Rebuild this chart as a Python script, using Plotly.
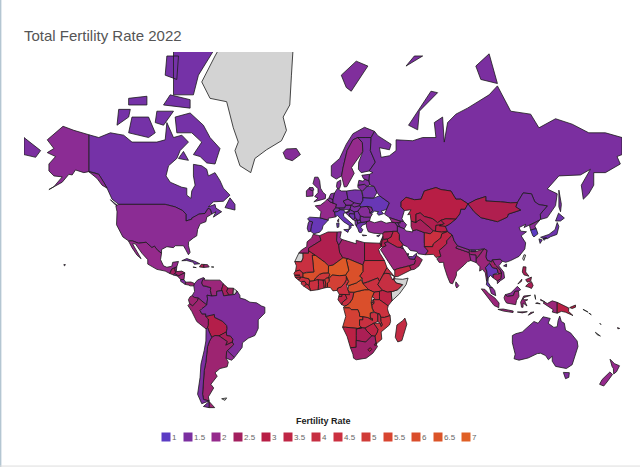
import numpy as np
import plotly.graph_objects as go
from plotly.colors import sample_colorscale

# no world topojson can be fetched here, so country shapes are rough lon/lat outlines

countries = ["Canada", "USA", "Mexico", "Guatemala", "Belize", "Honduras", "El Salvador", "Nicaragua", "Costa Rica", "Panama",
    "Cuba", "Haiti", "Dominican Rep.", "Jamaica", "Puerto Rico", "Colombia", "Venezuela", "Guyana", "Suriname",
    "Ecuador", "Peru", "Bolivia", "Brazil", "Paraguay", "Uruguay", "Argentina", "Chile", "Iceland", "Ireland",
    "UK", "Portugal", "Spain", "France", "Belgium", "Netherlands", "Germany", "Denmark", "Switzerland", "Austria",
    "Italy", "Poland", "Czechia", "Slovakia", "Hungary", "Slovenia", "Croatia", "Bosnia", "Serbia", "Montenegro",
    "Albania", "N. Macedonia", "Greece", "Bulgaria", "Romania", "Moldova", "Ukraine", "Belarus", "Lithuania", "Latvia",
    "Estonia", "Norway", "Sweden", "Finland", "Russia", "Turkey", "Georgia", "Armenia", "Azerbaijan", "Cyprus",
    "Syria", "Lebanon", "Israel", "Jordan", "Iraq", "Saudi Arabia", "Kuwait", "Qatar", "UAE", "Oman",
    "Yemen", "Iran", "Turkmenistan", "Kazakhstan", "Uzbekistan", "Kyrgyzstan", "Tajikistan", "Afghanistan", "Pakistan", "India",
    "Nepal", "Bhutan", "Bangladesh", "Sri Lanka", "China", "Mongolia", "North Korea", "South Korea", "Japan",
    "Myanmar", "Thailand", "Laos", "Vietnam", "Cambodia", "Malaysia", "Indonesia", "Papua New Guinea", "Philippines", "Australia",
    "New Zealand", "Solomon Islands", "Vanuatu", "Fiji", "Morocco", "Algeria", "Tunisia", "Libya", "Egypt", "Sudan", "South Sudan", "Eritrea", "Djibouti",
    "Ethiopia", "Kenya", "Uganda", "Rwanda", "Burundi", "Tanzania", "DR Congo", "Congo", "Gabon", "Eq. Guinea",
    "Cameroon", "CAR", "Chad", "Niger", "Nigeria", "Benin", "Togo", "Ghana", "Burkina Faso", "Ivory Coast",
    "Liberia", "Sierra Leone", "Guinea", "Guinea-Bissau", "Senegal", "Gambia", "Mali", "Mauritania", "Angola", "Zambia",
    "Malawi", "Mozambique", "Zimbabwe", "Botswana", "Namibia", "South Africa", "Lesotho", "Eswatini", "Madagascar"]

rates = [1.4, 1.8, 2.0, 2.5, 2.0, 2.4, 1.8, 2.2, 1.5, 2.3,
    1.4, 2.8, 2.3, 1.3, 1.2, 1.7, 2.2, 2.6, 2.5,
    2.3, 2.3, 2.9, 1.6, 2.6, 1.9, 2.3, 1.5, 1.7, 1.8,
    1.7, 1.4, 1.2, 2.0, 1.6, 1.6, 1.5, 1.7, 1.5, 1.5,
    1.2, 1.4, 1.6, 1.6, 1.5, 1.6, 1.4, 1.3, 1.4, 1.7,
    1.4, 1.4, 1.3, 1.6, 1.7, 1.8, 1.2, 1.4, 1.6, 1.6,
    1.6, 1.6, 2.0, 1.5, 1.5, 1.9, 2.1, 1.6, 1.7, 1.3,
    2.7, 2.1, 2.9, 2.8, 3.4, 2.2, 2.1, 1.8, 1.4, 2.5,
    3.7, 1.7, 2.6, 3.0, 2.8, 2.9, 3.1, 4.5, 3.4, 2.3,
    2.0, 1.4, 2.0, 2.0, 1.5, 2.8, 1.8, 1.0, 1.3,
    2.2, 1.2, 2.4, 1.9, 2.5, 1.8, 2.2, 3.1, 2.7, 1.6,
    2.0, 3.9, 3.7, 2.4, 2.3, 2.8, 2.0, 2.4, 2.9, 4.4, 4.4, 3.8, 2.7,
    4.0, 3.3, 4.5, 3.8, 5.0, 4.6, 6.1, 4.2, 3.5, 4.2,
    4.4, 6.0, 6.2, 6.7, 5.2, 5.0, 4.2, 3.6, 4.8, 4.4,
    4.0, 4.0, 4.3, 3.8, 4.4, 4.6, 6.0, 4.3, 5.2, 4.3,
    3.8, 4.6, 3.4, 2.7, 3.2, 2.4, 3.0, 2.8, 3.8]

no_data = ["Greenland", "Somalia", "Western Sahara", "French Guiana", "Falkland Islands", "Taiwan", "New Caledonia"]

legend_title = "Fertility Rate"
legend_values = [1, 1.5, 2, 2.5, 3, 3.5, 4, 4.5, 5, 5.5, 6, 6.5, 7]
legend_colours = ["#5b3cc4", "#7b2fa0", "#952a8c", "#a3205f", "#b81e45", "#bf2645", "#c62f42",
    "#cb3040", "#d03c38", "#d84530", "#da4e2c", "#db5428", "#e06026"]

outlines_americas = {
    "Canada": [[(-141,69.6),(-135,69),(-128,70),(-120,69.5),(-115,68),(-108,68),(-100,68),(-95,68.5),(-94,72),(-90,69),(-85,69.5),(-81,68),(-86,66),(-88,64),(-93,62),(-94.5,59),(-92,57),(-85,55.3),(-82,55),(-82,52.5),(-79.5,51.3),(-79,54),(-77,56),(-78,59),(-78,62.4),(-73,62),(-70,61),(-69,59),(-65,60),(-62,57.5),(-60,55),(-56,52.5),(-60,50.2),(-66,50),(-69,48),(-65,49),(-64.5,47.5),(-61,46),(-66,43.7),(-64.5,46),(-67,45),(-67.8,47),(-69.2,47.4),(-71,45.3),(-74.7,45),(-76.5,44.1),(-79,43.3),(-79,42.8),(-82.5,42),(-82.5,45),(-84.5,46.5),(-89,48),(-95,49),(-123,49),(-127,51),(-130,55),(-132,57),(-135,59.5),(-138,60),(-141,60.3)],
        [(-80,73.7),(-72,71.5),(-68,69),(-62,66.5),(-65,62.5),(-70,62.8),(-74,64.5),(-78,65),(-73,68),(-79,70),(-88,70),(-89,73)],
        [(-117,70),(-105,69),(-101,70),(-105,73),(-115,73)],
        [(-90,76.5),(-78,76.5),(-75,79),(-65,81.7),(-62,82.8),(-75,83.1),(-90,82)],
        [(-96,75),(-80,74.5),(-80,75.8),(-92,76.5)],
        [(-124,71.5),(-117,73),(-116,74.3),(-123,74.3)],
        [(-117,75),(-106,75),(-106,76.3),(-117,76)],
        [(-95,79),(-88,78.5),(-87,81),(-94,81)],
        [(-87,64),(-81,63.5),(-84,65.8)],
        [(-59,47.7),(-53,46.7),(-53,49),(-56,51.5)],
        [(-128,50.8),(-123.5,48.4),(-125,48.8)],
        [(-101,72),(-96,71.5),(-90,74),(-100,74)]],
    "USA": [[(-124.7,48.4),(-123,49),(-95,49),(-89,48),(-84.5,46.5),(-82.5,45),(-82.5,42),(-79,42.8),(-79,43.3),(-76.5,44.1),(-74.7,45),(-71,45.3),(-69.2,47.4),(-67.8,47),(-67,45),(-70,43.7),(-70.5,41.7),(-74,40.7),(-75.5,38),(-76,35),(-78,34),(-81,32),(-81,30),(-80,26.5),(-81,25.2),(-82.7,28),(-84,30),(-89,30),(-90,29),(-94,29.5),(-97.2,28),(-97.2,26),(-99.5,27.5),(-101.5,29.8),(-103,29),(-106.5,31.8),(-111,31.3),(-114.8,32.5),(-117.1,32.5),(-120.5,34.5),(-122.5,37.5),(-124.3,40.3),(-124,46)],
        [(-141,69.6),(-150,70.5),(-156.5,71.3),(-166,68.5),(-162,66.5),(-166,65.5),(-161,64.5),(-165,62.5),(-165,60.5),(-162,59),(-157,58.7),(-162,55.5),(-165,54.5),(-157,57),(-153,59.5),(-151,59.3),(-149,60.8),(-144,60),(-141,60.3),(-138,60),(-135,59.5),(-132,57),(-130,55),(-133,56),(-136,58.2),(-141,60.3)],
        [(-156,19.8),(-155,19.6),(-155.7,19)]],
    "Mexico": [[(-117.1,32.5),(-114.8,32.5),(-111,31.3),(-106.5,31.8),(-103,29),(-101.5,29.8),(-99.5,27.5),(-97.2,26),(-97.8,22.5),(-96,19),(-94,18.2),(-91,18.8),(-90.5,21),(-87,21.5),(-88,18.5),(-89.1,17.9),(-91,17.2),(-92.2,14.6),(-95,16),(-100,17),(-105.5,20),(-105.5,22.5),(-109,26),(-113,31),(-114.7,31),(-112,27),(-109.5,23),(-112,25),(-115,29)]],
    "Guatemala": [[(-92.2,14.6),(-91,17.2),(-89.1,17.9),(-89,15.9),(-88.3,15.7),(-89.3,14.4),(-90.2,13.8)]],
    "Belize": [[(-89.1,17.9),(-88,18.5),(-88.3,16),(-89,15.9)]],
    "Honduras": [[(-88.3,15.7),(-85,16),(-83.2,15),(-85,14),(-87.3,13),(-89.3,14.4)]],
    "El Salvador": [[(-89.3,14.4),(-87.7,13.8),(-87.9,13.2),(-90.1,13.7)]],
    "Nicaragua": [[(-87.5,13),(-85,14),(-83.2,15),(-83.7,11),(-85.7,11.1)]],
    "Costa Rica": [[(-85.7,11.1),(-83.7,11),(-82.6,9.5),(-83,8.2),(-85.7,10)]],
    "Panama": [[(-83,8.2),(-82.6,9.5),(-79.5,9.6),(-77.3,8.7),(-77.8,7.3),(-80,7.3),(-81,7.8)]],
    "Cuba": [[(-85,21.9),(-82,23.1),(-77,21.5),(-74.2,20.2),(-77.5,19.9),(-78,21),(-82,22)]],
    "Haiti": [[(-74.4,18.4),(-71.8,18.1),(-71.7,19.8),(-73.3,19.9)]],
    "Dominican Rep.": [[(-71.8,18.1),(-68.5,18.4),(-69.5,19.7),(-71.7,19.8)]],
    "Jamaica": [[(-78.3,18.3),(-76.3,18),(-77,18.5)]],
    "Puerto Rico": [[(-67.2,18.4),(-65.7,18.3),(-66,18),(-67.2,18)]],
    "Colombia": [[(-77.3,8.7),(-75.5,10.8),(-72,12.2),(-71.3,11.7),(-72.4,11),(-73,9),(-72.3,7.4),(-70,7),(-67.5,6.2),(-67.8,4.5),(-67,1.2),(-69.8,1.7),(-69.5,-0.5),(-70,-4.2),(-72,-2.4),(-75,-0.1),(-77.5,0.4),(-78.8,1.4),(-77.3,4),(-77.8,7.3)]],
    "Venezuela": [[(-71.3,11.7),(-71.5,10.8),(-68,10.7),(-64,10.5),(-62,10.7),(-60,8.5),(-60.5,6.9),(-61,5.2),(-60.7,4.5),(-64,4),(-64,1.5),(-67,1.2),(-67.8,4.5),(-67.5,6.2),(-70,7),(-72.3,7.4),(-73,9),(-72.4,11)]],
    "Guyana": [[(-60,8.5),(-57.2,6),(-58,4),(-56.5,1.9),(-59.8,1.3),(-60.7,4.5),(-61,5.2),(-60.5,6.9)]],
    "Suriname": [[(-57.2,6),(-54,5.9),(-54.3,2.3),(-56.5,1.9),(-58,4)]],
    "French Guiana": [[(-54,5.9),(-51.7,4.2),(-52.9,2.2),(-54.3,2.3)]],
    "Ecuador": [[(-78.8,1.4),(-77.5,0.4),(-75,-0.1),(-75.6,-1.6),(-78.5,-4.8),(-80.3,-3.4),(-81,-1),(-80,0.8)]],
    "Peru": [[(-81.3,-4.5),(-80.3,-3.4),(-78.5,-4.8),(-75.6,-1.6),(-75,-0.1),(-72,-2.4),(-70,-4.2),(-73,-6.5),(-74,-7.5),(-72.9,-9.5),(-70.6,-9.5),(-70.6,-11),(-69,-12.5),(-69,-16.2),(-69.5,-17.5),(-70.4,-18.3),(-76,-14),(-79,-8)]],
    "Bolivia": [[(-70.6,-11),(-65.4,-9.8),(-65.3,-11.5),(-60.5,-13.8),(-58,-16.3),(-57.7,-18),(-58.2,-20),(-62.6,-22.2),(-65,-22),(-67,-23),(-68.5,-20),(-69.5,-17.5),(-69,-16.2),(-69,-12.5)]],
    "Brazil": [[(-51.7,4.2),(-50,1.5),(-50,0),(-47,-0.8),(-44,-2.5),(-40,-2.9),(-37,-4.8),(-35,-5.5),(-35,-9),(-39,-13),(-39,-18),(-41,-22),(-45,-23.5),(-48.5,-26),(-48.7,-28.5),(-53.4,-33.7),(-57.6,-30.2),(-53.8,-27),(-54.6,-25.6),(-54.3,-24),(-55.7,-22.4),(-58,-22),(-58.2,-20),(-57.7,-18),(-58,-16.3),(-60.5,-13.8),(-65.3,-11.5),(-65.4,-9.8),(-70.6,-11),(-70.6,-9.5),(-72.9,-9.5),(-74,-7.5),(-73,-6.5),(-70,-4.2),(-69.5,-0.5),(-69.8,1.7),(-67,1.2),(-64,1.5),(-64,4),(-60.7,4.5),(-59.8,1.3),(-56.5,1.9),(-54.3,2.3),(-52.9,2.2)]],
    "Paraguay": [[(-58.2,-20),(-58,-22),(-55.7,-22.4),(-54.3,-24),(-54.6,-25.6),(-58.6,-27.3),(-57.7,-25.3),(-60,-24),(-62.6,-22.2)]],
    "Uruguay": [[(-57.6,-30.2),(-53.4,-33.7),(-55,-35),(-58.4,-34),(-58,-30.5)]],
    "Argentina": [[(-67,-23),(-65,-22),(-62.6,-22.2),(-60,-24),(-57.7,-25.3),(-58.6,-27.3),(-54.6,-25.6),(-53.8,-27),(-57.6,-30.2),(-58,-30.5),(-58.4,-34),(-57,-36),(-57.7,-38.2),(-62,-39),(-65,-41),(-63.7,-42.5),(-67.5,-46),(-65.8,-47.5),(-69,-51),(-68.5,-52.5),(-71.9,-52),(-72.5,-50),(-72,-45),(-71.5,-40),(-70.5,-36),(-70,-32),(-69.5,-28),(-68.3,-25)],
        [(-68.6,-52.7),(-65.2,-54.9),(-68.6,-54.9)]],
    "Chile": [[(-70.4,-18.3),(-69.5,-17.5),(-68.5,-20),(-67,-23),(-68.3,-25),(-69.5,-28),(-70,-32),(-70.5,-36),(-71.5,-40),(-72,-45),(-72.5,-50),(-71.9,-52),(-68.5,-52.5),(-73,-53.5),(-75.5,-50),(-74,-43),(-73.5,-37),(-71.5,-30),(-70.5,-25)],
        [(-68.6,-52.7),(-68.6,-54.9),(-72,-54.5)]],
    "Falkland Islands": [[(-61,-51.7),(-58,-51.4),(-59,-52.3)]],
}

outlines_europe = {
    "Iceland": [[(-24,65.5),(-22,66.4),(-16,66.5),(-13.6,65),(-18.5,63.4),(-22.5,64)]],
    "Ireland": [[(-10,52),(-6,52.2),(-6,54),(-8,55.2),(-10,54)]],
    "UK": [[(-5.5,50),(1.4,51.2),(1.6,52.7),(0,53.5),(-1.5,55),(-2,57.5),(-3,58.6),(-5,58.6),(-6,56.5),(-3,54.8),(-3,53.4),(-5,52),(-3,51.4)],
        [(-8,55.2),(-6,55.2),(-5.5,54.3),(-6.5,54.1),(-8,54.5)]],
    "Portugal": [[(-9.5,38.7),(-8.8,37),(-7.4,37.2),(-7,39.5),(-6.2,41.6),(-8.2,42),(-8.9,41)]],
    "Spain": [[(-8.2,42),(-9.3,43),(-8,43.7),(-1.8,43.4),(3.2,42.4),(0,39.8),(-0.5,38.2),(-2,36.8),(-5.5,36),(-7.4,37.2),(-7,39.5),(-6.2,41.6)]],
    "France": [[(-1.8,43.4),(-1.2,46),(-4.7,48.4),(-1.5,48.7),(1.5,50.2),(2.5,51),(4.2,50),(6,49.5),(8.2,49),(7.6,47.6),(6,46.3),(7,45.9),(7.5,43.8),(3.2,43.2),(3.2,42.4)],
        [(8.6,42),(9.5,43),(9.4,41.4)]],
    "Belgium": [[(2.5,51),(4.3,51.4),(6,50.8),(6,49.5),(4.2,50)]],
    "Netherlands": [[(3.5,51.4),(4.7,53),(7,53.3),(6,50.8),(4.3,51.4)]],
    "Germany": [[(7,53.3),(8.7,54.9),(11,54),(14.2,54),(15,51),(12.2,50.3),(13.8,48.7),(13,47.5),(7.6,47.6),(8.2,49),(6,49.5),(6,50.8)]],
    "Denmark": [[(8.1,55.5),(8.7,54.9),(10,54.9),(10.8,56.3),(10.6,57.7),(8.5,57)]],
    "Switzerland": [[(6,46.3),(7.6,47.6),(9.6,47.5),(10.4,46.8),(8.5,46),(7,45.9)]],
    "Austria": [[(9.6,47.5),(13,47.5),(13.8,48.7),(17,48.7),(16.2,46.9),(12.5,46.7),(10.4,46.8)]],
    "Italy": [[(7,45.9),(8.5,46),(10.4,46.8),(12.5,46.7),(13.7,45.7),(12.3,45.2),(12.5,44),(16,41.7),(18.5,40),(16.7,40),(17,39),(15.7,38),(15.8,40),(12.3,41.7),(10.2,43.5),(8.7,44.4),(7.5,43.8)],
        [(12.5,38),(15.6,38.2),(15,36.7)], [(8.2,41),(9.7,41),(9.5,39.2),(8.5,39)]],
    "Poland": [[(14.2,54),(19,54.4),(22.9,54.3),(24,52),(24,50.5),(22.6,49.1),(19,49.4),(15,51)]],
    "Czechia": [[(12.2,50.3),(15,51),(18.8,49.6),(17,48.7),(13.8,48.7)]],
    "Slovakia": [[(17,48.7),(18.8,49.6),(22.6,49.1),(22,48.4),(18.8,47.9)]],
    "Hungary": [[(16.2,46.9),(17,48.7),(18.8,47.9),(22,48.4),(22.9,48),(21,46.2),(18.8,45.9)]],
    "Slovenia": [[(13.7,45.7),(16.2,46.9),(15.7,45.9),(13.7,45.5)]],
    "Croatia": [[(13.7,45.5),(15.7,45.9),(16.2,46.9),(18.8,45.9),(19,45),(16,45.2),(15.8,44.5),(17.5,43),(18.4,42.5),(15,44.5)]],
    "Bosnia": [[(16,45.2),(19,45),(19.3,43.5),(18.4,42.5),(17.5,43),(15.8,44.5)]],
    "Serbia": [[(18.8,45.9),(21,46.2),(22.5,44.5),(22.4,42.4),(20.5,42.2),(19.3,43.5),(19,45)]],
    "Montenegro": [[(18.4,42.5),(19.3,43.5),(20.5,42.6),(19.3,41.9)]],
    "Albania": [[(19.3,41.9),(20.5,42.6),(20.9,40.9),(20,39.7),(19.4,40.5)]],
    "N. Macedonia": [[(20.5,42.2),(22.4,42.4),(23,41.3),(20.9,40.9)]],
    "Greece": [[(20,39.7),(20.9,40.9),(23,41.3),(26.3,41.7),(26,40.8),(23.5,40),(22.8,39),(24,38),(23,36.5),(21.7,36.8),(21,38.4)], [(23.6,35.5),(26.3,35.2),(24,35)]],
    "Bulgaria": [[(22.4,42.4),(22.5,44.2),(25,43.7),(28.6,43.7),(28,42),(26.3,41.7),(23,41.3)]],
    "Romania": [[(21,46.2),(22.9,48),(26.6,48.2),(28.1,46.7),(28.2,45.5),(29.7,45),(28.6,43.7),(25,43.7),(22.5,44.2)]],
    "Moldova": [[(26.6,48.2),(29.2,47.9),(30,46.4),(28.2,45.5),(28.1,46.7)]],
    "Ukraine": [[(22.6,49.1),(24,50.5),(24,51.6),(30.5,51.4),(34,52.3),(40,49.6),(38.3,47),(35,46.2),(36.5,45.2),(33.5,44.5),(32.5,45.4),(33.5,46),(30.8,46.3),(29.7,45.4),(28.2,45.5),(30,46.4),(29.2,47.9),(26.6,48.2),(22.9,48),(22,48.4)]],
    "Belarus": [[(24,52),(23.6,53.9),(26.5,55.6),(30.8,55.6),(32.5,53.5),(30.5,51.4),(24,51.6)]],
    "Lithuania": [[(21,56),(25,56.3),(26.5,55.6),(23.6,53.9),(22.9,54.3),(21,55.2)]],
    "Latvia": [[(21,56),(21.6,57.6),(24.3,57.3),(25,58),(27.7,57.4),(28.2,56.1),(26.5,55.6),(25,56.3)]],
    "Estonia": [[(23.4,59.2),(28,59.5),(27.7,57.4),(25,58),(24.3,58.2)]],
    "Norway": [[(5,59),(5,62),(10,64),(14,67.5),(18,69.8),(25,71.1),(31,70.3),(29,69),(25.5,69),(21,69),(18,68.5),(14.5,66),(12,61.3),(11.2,59),(8,58)],
        [(11,79),(20,80.5),(27,80),(17,77),(14,77.5)]],
    "Sweden": [[(11.2,59),(12,61.3),(14.5,66),(18,68.5),(21,69),(23.7,67.9),(24,65.8),(21,64),(17.2,61.5),(18.8,59.8),(16.5,57.5),(14.3,55.5),(12.8,55.4)]],
    "Finland": [[(21,69),(25.5,69),(29,69),(28.5,66),(31.5,63),(27.8,60.5),(23,60),(21.3,61),(21.5,63),(24,65.8),(23.7,67.9)]],
    "Russia": [[(27.8,60.5),(31.5,63),(28.5,66),(29,69),(31,70.3),(33,69.4),(41,67.5),(40,66.2),(34,66.7),(35,64.3),(40,64.7),(44,66),(44,68.5),(54,68.3),(60,69),(68,69),(67,72),(72,73),(73,68),(75,72),(80,73.5),(87,74.5),(100,76.5),(105,77.7),(113,74),(125,73.5),(130,71),(140,72.7),(150,71.7),(160,70),(170,70),(180,69),(180,65),(177,64.5),(179,62.5),(170,60),(163,60),(163,56),(160,53),(156.7,51),(155.5,56),(161,61),(155,59.3),(142,59),(135,54.7),(141,53),(140,48.5),(135,43.5),(131,42.7),(130.8,45),(135,48.4),(130,48.9),(127.5,50),(125.5,53),(120.5,53.3),(117,49.7),(113,49.6),(107,50),(98,50.3),(98,52),(92,50.8),(87.3,49.2),(83,51),(80,51),(77,54),(71,54.5),(68,55.2),(61,54),(59,51),(55,50.8),(50,51.7),(47,50),(47,48),(49,46.5),(47.5,43),(48.5,41.8),(46.5,41.9),(40,43.5),(37,45),(38.3,47),(40,49.6),(34,52.3),(32.5,53.5),(30.8,55.6),(28.2,56.1),(27.7,57.4),(28,59.5),(30,60)],
        [(51.5,71.5),(57,70.6),(58,74),(69,76.8),(65,77),(55,73)],
        [(-180,69),(-175,67.5),(-170,66),(-173,64.3),(-180,65)],
        [(142,54.3),(143.5,49),(143,46),(142,48)],
        [(95,78.5),(105,78),(100,81.2),(92,80)],
        [(50,80),(60,81),(55,81)]],
}

outlines_asia = {
    "Turkey": [[(26,40.8),(26.3,41.7),(28,42),(31,41.2),(35,42),(38,41),(41.5,41.5),(43.5,41.1),(44.8,39.7),(44.8,37.2),(42.3,37.2),(36.7,36.8),(36,36),(32.5,36),(30.5,36.3),(27.3,37),(26.3,39)]],
    "Georgia": [[(40,43.5),(46.5,41.9),(46.5,41),(43.5,41.1),(41.5,41.5)]],
    "Armenia": [[(43.5,41.1),(45,41.3),(46.5,39),(44.8,39.7)]],
    "Azerbaijan": [[(45,41.3),(46.5,41),(46.5,41.9),(48.5,41.8),(50.3,40.3),(48.9,38.4),(46.5,39)]],
    "Cyprus": [[(32.3,35),(34.5,35.6),(33.5,34.6)]],
    "Syria": [[(36,36),(36.7,36.8),(42.3,37.2),(41,34.4),(38.8,33.4),(36,33.3),(36,34.7)]],
    "Lebanon": [[(35.1,33.1),(36,33.3),(36,34.7)]],
    "Israel": [[(34.3,31.3),(35.1,33.1),(35.7,33),(35,29.5)]],
    "Jordan": [[(35,29.5),(35.7,33),(38.8,33.4),(39,32),(37,31.5),(38,30),(36,29.2)]],
    "Iraq": [[(38.8,33.4),(41,34.4),(42.3,37.2),(44.8,37.2),(46,35.7),(46,33),(48.5,30.3),(47.7,30),(46.5,29.1),(44.7,29.2),(39,32)]],
    "Saudi Arabia": [[(34.6,28),(36,29.2),(38,30),(37,31.5),(39,32),(44.7,29.2),(46.5,29.1),(48.4,28.5),(50,26.5),(51.2,24.6),(52,23),(55.2,22.7),(55.7,22),(55,20),(52,19),(48.8,18.3),(45,17.4),(43.2,16.7),(42.7,16.5),(39.2,21.5),(35.3,27.5)]],
    "Kuwait": [[(46.5,29.1),(47.7,30),(48.4,28.5)]],
    "Qatar": [[(51,24.6),(51.6,25),(51.2,26.1),(50.8,25.5)]],
    "UAE": [[(51.6,24.2),(54,24.2),(56.3,26),(56.3,24.8),(55.7,24),(55.2,22.7),(52,23)]],
    "Oman": [[(56.3,24.8),(58.6,23.6),(59.8,22.5),(57.8,19),(55,17),(53,16.7),(52,19),(55,20),(55.7,22),(55.2,22.7),(55.7,24)]],
    "Yemen": [[(43.2,12.8),(43.2,16.7),(45,17.4),(48.8,18.3),(52,19),(53,16.7),(48,14),(45,12.8)]],
    "Iran": [[(44.8,39.7),(46.5,39),(48.9,38.4),(50,37.4),(54,36.9),(54,37.5),(56.3,38),(61,36.6),(61,31.4),(63.3,27.2),(61.6,25.2),(57.3,25.7),(56.5,27),(52.6,27.5),(50.8,29.5),(48.5,30.3),(46,33),(46,35.7),(44.8,37.2)]],
    "Turkmenistan": [[(53,39.5),(53,42),(55.5,41.3),(58.5,42.7),(61,41.2),(64.5,38.9),(66.5,37.4),(64.5,36),(61,36.6),(56.3,38),(54,37.5)]],
    "Kazakhstan": [[(47,50),(50,51.7),(55,50.8),(59,51),(61,54),(68,55.2),(71,54.5),(77,54),(80,51),(83,51),(87.3,49.2),(85.5,47),(83,47),(82.5,45.2),(80,42.8),(74,43),(71,42.3),(69,41.2),(66,43),(61,44),(58.5,45.5),(56,45),(56,41.3),(53,42),(52.5,45),(51,44.7),(53,46.8),(49,46.5),(47,48)]],
    "Uzbekistan": [[(56,41.3),(56,45),(58.5,45.5),(61,44),(66,43),(69,41.2),(71,42.3),(73,40.8),(71,40.2),(68,40),(67.7,37.2),(66.5,37.4),(64.5,38.9),(61,41.2),(58.5,42.7),(55.5,41.3)]],
    "Kyrgyzstan": [[(71,42.3),(74,43),(80,42.8),(76,40.4),(73.7,39.5),(70,39.8),(73,40.8)]],
    "Tajikistan": [[(68,40),(71,40.2),(70,39.8),(73.7,39.5),(75,37.4),(71.5,36.8),(67.7,37.2)]],
    "Afghanistan": [[(61,36.6),(64.5,36),(66.5,37.4),(67.7,37.2),(71.5,36.8),(75,37.1),(71.5,36),(71,34),(69.5,33),(66.5,31),(66,29.5),(61,29.5),(61,31.4)]],
    "Pakistan": [[(61,29.5),(66,29.5),(66.5,31),(69.5,33),(71,34),(71.5,36),(75,37.1),(77.8,35.5),(74.5,32.5),(74.5,31),(70,27.5),(71,24.4),(68,23.7),(66.5,25.4),(61.6,25.2),(63.3,27.2)]],
    "India": [[(77.8,35.5),(79,32.5),(81,30),(80,28.8),(88,26.4),(88,27.9),(89,26.9),(92,26.9),(97,28.4),(95,26),(93.5,24),(92.3,23),(92,25),(89,25.3),(89,22),(87,21.4),(85,19.5),(80.3,15.5),(80.3,13.5),(78,8.5),(76.5,9),(74.8,13),(72.8,19),(72.6,21),(70,20.9),(68.5,23),(71,24.4),(70,27.5),(74.5,31),(74.5,32.5)]],
    "Nepal": [[(80,28.8),(81,30),(88,27.9),(88,26.4)]],
    "Bhutan": [[(89,26.9),(89,27.8),(92,27.8),(92,26.9)]],
    "Bangladesh": [[(88,26),(89,25.3),(92,25),(92.3,23),(92.3,20.8),(89,22)]],
    "Sri Lanka": [[(80,9.7),(81.8,7.4),(80.5,6),(79.8,7.5)]],
    "China": [[(73.7,39.5),(76,40.4),(80,42.8),(82.5,45.2),(83,47),(85.5,47),(87.3,49.2),(91,46),(95,43.5),(105,41.7),(111,43.7),(111.5,45),(119,46.7),(116,48),(117,49.7),(120.5,53.3),(125.5,53),(127.5,50),(130,48.9),(135,48.4),(130.8,45),(131,42.7),(128,41.5),(124.3,40),(121,39),(122,40.5),(118,39),(119,37.3),(122.5,37),(119.3,35),(122,31.5),(121.5,28.3),(118,24.3),(113,22),(110,21),(108,21.6),(106.7,22.7),(102,22.4),(101.5,21.3),(99,22),(98,24),(98.7,27.5),(97,28.4),(92,27.8),(89,27.8),(88,27.9),(81,30),(79,32.5),(77.8,35.5),(75,37.1)],
        [(108.7,19),(110.5,20),(110.5,18.5)]],
    "Taiwan": [[(120.2,23),(121,25.2),(122,25),(120.9,22)]],
    "Mongolia": [[(87.3,49.2),(92,50.8),(98,52),(98,50.3),(107,50),(113,49.6),(117,49.7),(116,48),(119,46.7),(111.5,45),(111,43.7),(105,41.7),(95,43.5),(91,46)]],
    "North Korea": [[(124.3,40),(128,41.5),(130.5,42.4),(127.5,39.7),(128.3,38.5),(125,37.8)]],
    "South Korea": [[(125,37.8),(128.3,38.5),(129.4,36),(127,34.5),(126.3,35)]],
    "Japan": [[(131,34.3),(136,35.7),(139.7,38),(141,41.3),(142,39.5),(140.8,35.7),(137,34.6),(135,33.6),(132,33.9)],
        [(140,42),(141.8,45.4),(145.3,43.3),(143,42)], [(130,33.5),(132,33),(130.7,31.2)], [(132.5,33.7),(134.5,34.2),(134,33.4),(133,32.8)]],
    "Myanmar": [[(92.3,20.8),(92.3,23),(93.5,24),(95,26),(97,28.4),(98.7,27.5),(98,24),(99,22),(101,21.5),(100,20.3),(97.8,18),(98.6,16),(99,12),(98.5,10),(97.7,15),(96,17),(94.3,16),(94.5,18.5)]],
    "Thailand": [[(97.8,18),(100,20.3),(101,19.6),(102,18),(104.7,17.5),(105.5,15),(102.5,14),(102.5,12),(100.8,13.5),(99.5,12),(99.3,9.5),(101,6.9),(102,6.2),(100.2,6.4),(98.3,8),(98.5,10),(99,12),(98.6,16)]],
    "Laos": [[(101.5,21.3),(102,22.4),(103.8,19.5),(106.5,17),(107.5,15),(105.5,14.2),(105.5,15),(104.7,17.5),(102,18),(101,19.6),(100.5,20.3)]],
    "Vietnam": [[(102,22.4),(106.7,22.7),(108,21.6),(105.8,19),(108.8,15.4),(109.3,12),(106.8,10.4),(105,8.6),(104.9,10.3),(107,11.5),(107.5,15),(106.5,17),(103.8,19.5)]],
    "Cambodia": [[(102.5,12),(102.5,14),(105.5,14.2),(107.5,15),(107,11.5),(104.9,10.3)]],
    "Malaysia": [[(100.2,6.4),(102,6.2),(103.4,4.5),(104,1.4),(101.3,2.8)], [(109.7,2),(111.4,2.6),(113,3),(115.5,5.5),(117,7),(119,5),(117.7,4.2),(115.5,4),(114.6,1.5),(111,1)]],
    "Indonesia": [[(95.3,5.5),(97.5,5.2),(100,2.5),(103.5,0),(106,-3),(105.8,-5.8),(103,-4.5),(100.3,-1),(97,3)],
        [(105.3,-6.8),(108.5,-6.6),(114.5,-7.8),(114.4,-8.7),(108.5,-7.8)],
        [(109,0.3),(109.7,2),(111,1),(114.6,1.5),(115.5,4),(117.7,4.2),(118,1),(116.5,-1.5),(116,-4),(110.5,-3),(109.3,-1)],
        [(119.5,-5.5),(119,-2.5),(120.8,1.2),(125,1.6),(121,0.3),(120.3,-1),(123.3,-1),(121.5,-2),(122.8,-4.8),(120.5,-3),(120.4,-5.6)],
        [(131,-0.8),(135,-3.3),(138,-1.7),(141,-2.6),(141,-9.1),(138,-8.4),(138.6,-7),(135,-4.4),(132.5,-3),(133.5,-2.2),(131,-1.4)],
        [(123.6,-10.3),(127,-8.4),(125,-8.6)], [(117,-8.4),(123,-8.2),(120,-8.9)], [(127.5,2),(128,-0.8),(127.8,0.8)], [(128,-3.2),(130.8,-3.5),(129,-2.8)]],
    "Papua New Guinea": [[(141,-2.6),(145,-4.3),(148,-6),(147.8,-8),(150.5,-10.5),(146,-8.5),(143.5,-8),(141,-9.1)], [(148.5,-5.7),(152,-4.2),(152,-5.5),(150,-6.3)]],
    "Philippines": [[(120.5,18.5),(122.2,18.4),(122,15.5),(124,13),(121,13.8),(120,15.5)], [(122,7),(123.5,8.6),(125.5,9.8),(126.5,7.5),(125.5,5.7),(124,6.5)], [(122,11),(125.5,12.5),(125,10),(123,9.5)], [(117.3,8.4),(119.7,11.3),(119.5,10)]],
    "Australia": [[(114,-22),(114,-26),(115.7,-32),(115,-34.3),(118,-35),(123.5,-33.9),(129,-31.7),(131,-31.5),(134,-32.7),(135.7,-34.8),(138,-33),(138,-35.5),(140,-38),(144,-38.8),(146.5,-39),(150,-37.2),(151.5,-33),(153.5,-28),(153,-25),(149,-20.5),(146,-19),(145.3,-15),(143.5,-14),(142.5,-10.8),(141.5,-13.5),(141,-17),(139,-17.4),(135.5,-15),(136.8,-12.2),(132.5,-11.2),(129.5,-15),(127,-14),(122.3,-18),(120,-20),(116,-21)],
        [(144.7,-40.8),(148.3,-40.9),(148,-43),(146,-43.6)]],
    "New Zealand": [[(172.8,-34.5),(175.5,-36.7),(178.5,-37.7),(176.7,-40.5),(175,-41.5),(174.8,-39),(174,-38)], [(172.7,-40.6),(174.3,-41.7),(171,-45),(169,-46.7),(166.5,-46),(168,-44)]],
    "Solomon Islands": [[(156.5,-6.8),(159,-8),(159.5,-8.4)], [(160,-9),(161.5,-10),(161,-9.2)]],
    "Vanuatu": [[(166.7,-15),(167.3,-15.8),(167,-15.8)]],
    "Fiji": [[(177.3,-17.5),(178.6,-18),(177.5,-18.2)]],
    "New Caledonia": [[(164,-20.2),(167,-22.3),(165,-21.5)]],
}

outlines_africa = {
    "Morocco": [[(-5.9,35.8),(-2,35.1),(-1.2,32.7),(-3.6,31.5),(-8.7,28.7),(-8.7,26),(-12,26),(-14.5,26.2),(-13,27.7),(-9.8,29.5),(-9.6,32),(-6.8,34)]],
    "Algeria": [[(-2,35.1),(3,36.9),(8.6,36.9),(8.2,32.8),(9.5,30.2),(10,26.5),(12,23.5),(6,19.4),(3.3,19),(1,21.1),(-4.8,25),(-8.7,27.3),(-8.7,28.7),(-3.6,31.5),(-1.2,32.7)]],
    "Tunisia": [[(8.6,36.9),(11,37),(10.2,34),(11.5,33.2),(9.5,30.2),(8.2,32.8)]],
    "Libya": [[(11.5,33.2),(15,32.3),(20,31),(20,32.8),(25,31.6),(25,22),(24,19.5),(15,23),(12,23.5),(10,26.5),(9.5,30.2)]],
    "Egypt": [[(25,31.6),(31,31.5),(34.3,31.3),(35,29.5),(33.5,28),(34.3,26),(37,22),(25,22)]],
    "Sudan": [[(25,22),(37,22),(38.5,18),(36.5,14.3),(34,10),(33,12),(27,9.5),(24,8.7),(23.5,12),(22,13),(24,15.7),(24,19.5)]],
    "South Sudan": [[(24,8.7),(27,9.5),(33,12),(34,10),(33,8),(35.9,4.6),(34,4),(30.8,3.5),(27.5,5),(25,5)]],
    "Eritrea": [[(36.5,14.3),(38.5,18),(43.1,12.7),(40,14.5),(37.8,14.7)]],
    "Djibouti": [[(41.8,11),(43.1,12.7),(43.3,11.5),(42.6,11)]],
    "Ethiopia": [[(34,10),(36.5,14.3),(37.8,14.7),(40,14.5),(41.8,11),(42.6,11),(44,9),(47.9,8),(45,5),(42,4),(39,3.5),(35.9,4.6),(33,8)]],
    "Kenya": [[(35.9,4.6),(39,3.5),(41,3.9),(41.5,-1.7),(39.2,-4.7),(34,-1),(34,1.1),(34,4)]],
    "Uganda": [[(30.8,3.5),(34,4),(34,1.1),(34,-1),(30,-1.4),(31,0),(29.6,0.7)]],
    "Rwanda": [[(29,-2.7),(30,-1.4),(30.8,-2.3),(30,-2.8)]],
    "Burundi": [[(29,-2.7),(30,-2.8),(30.8,-3),(29.5,-4.4)]],
    "Tanzania": [[(30,-1),(34,-1),(39.2,-4.7),(38.8,-6.5),(39.5,-9),(40.4,-10.5),(37,-11.6),(34.8,-11.5),(34,-9.5),(31,-8.6),(29.5,-6),(29.5,-4.4),(30.8,-3),(30.8,-2.3)]],
    "DR Congo": [[(12.2,-6),(13,-4.7),(14,-4.5),(16,-3),(17.7,-0.5),(18.6,3.5),(22,4.2),(25,5),(27.5,5),(30.8,3.5),(29.6,0.7),(29.5,-1.4),(29,-2.7),(29.5,-6),(30.5,-8.2),(28.5,-9),(28.5,-12),(29.8,-12.2),(29.8,-13.4),(27,-11.7),(24,-11.2),(22,-11),(22,-9.5),(21,-7),(17,-7),(16,-5.9),(13,-5.9)]],
    "Congo": [[(11.2,-4),(13,-4.7),(14,-4.5),(16,-3),(17.7,-0.5),(18.6,3.5),(16,3.6),(13.3,2.2),(14.4,-0.3),(12.5,-1.8),(11.5,-2.8)]],
    "Gabon": [[(9,-1),(9.5,1),(11.3,1),(11.3,2.2),(13.3,2.2),(14.4,-0.3),(12.5,-1.8),(11.5,-2.8),(11.2,-4)]],
    "Eq. Guinea": [[(9.5,1),(11.3,1),(11.3,2.2),(9.8,2.2)]],
    "Cameroon": [[(8.5,4.6),(9.8,2.2),(11.3,2.2),(13.3,2.2),(16,2),(15,5),(14.2,8),(15.5,9.8),(14,13),(14,11),(13,9),(11,6.7),(8.9,6)]],
    "CAR": [[(15,5),(16,3.6),(18.6,3.5),(22,4.2),(25,5),(27.5,5),(24,8.7),(23,11),(20,9),(15.5,7.5)]],
    "Chad": [[(15.5,7.5),(20,9),(23,11),(23.5,12),(22,13),(24,15.7),(24,19.5),(15,23),(14,22.5),(15.5,16.5),(13.5,13.6),(14,13),(15.5,9.8),(14.2,8)]],
    "Niger": [[(3.2,12),(4,14),(3.2,15),(3.3,19),(6,19.4),(12,23.5),(15,23),(14,22.5),(15.5,16.5),(13.5,13.6),(10,13.3),(5.5,13.7),(3.7,11.7)]],
    "Nigeria": [[(2.7,6.4),(4.5,6.3),(6,4.3),(8.5,4.6),(8.9,6),(11,6.7),(13,9),(14,11),(14,13),(13.5,13.6),(10,13.3),(5.5,13.7),(3.7,11.7),(3.6,10),(2.7,9)]],
    "Benin": [[(1.6,6.2),(2.7,6.4),(2.7,9),(3.6,10),(3.7,11.7),(2.4,12.2),(0.9,11),(1.6,9)]],
    "Togo": [[(0.6,6),(1.6,6.2),(1.6,9),(0.9,11),(0,10.8),(0.5,8)]],
    "Ghana": [[(-3,5),(0.6,6),(0.5,8),(0,10.8),(-2.9,11),(-2.7,8)]],
    "Burkina Faso": [[(-5.5,10.4),(-2.9,11),(0,10.8),(0.9,11),(2.4,12.2),(3.2,12),(4,14),(3.2,15),(0.2,14.9),(-2,14.2),(-4.5,12)]],
    "Ivory Coast": [[(-7.5,4.4),(-3,5),(-2.7,8),(-2.9,11),(-5.5,10.4),(-8,10.2),(-8.5,7.6)]],
    "Liberia": [[(-11.4,7),(-7.5,4.4),(-8.5,7.6),(-10,8.5)]],
    "Sierra Leone": [[(-13.2,8.5),(-11.4,7),(-10,8.5),(-11,10),(-12.7,9.9)]],
    "Guinea": [[(-15,10.9),(-13.2,9.5),(-12.7,9.9),(-11,10),(-10,8.5),(-8.5,7.6),(-8,10.2),(-8.5,11.5),(-10.5,12),(-13.7,12.6),(-13.7,11.7)]],
    "Guinea-Bissau": [[(-16.7,12.3),(-13.7,12.6),(-13.7,11.7),(-15,10.9)]],
    "Senegal": [[(-17.5,14.7),(-16.5,16),(-14,16.6),(-12,14.8),(-12,12.4),(-13.7,12.6),(-16.7,12.3)]],
    "Gambia": [[(-16.8,13.6),(-13.8,13.6),(-13.8,13.3),(-16.8,13.2)]],
    "Mali": [[(-12,14.8),(-12,12.4),(-10.5,12),(-8.5,11.5),(-8,10.2),(-5.5,10.4),(-4.5,12),(-2,14.2),(0.2,14.9),(3.2,15),(3.3,19),(1,21.1),(-4.8,25),(-6.5,25),(-5.5,15.5),(-10,15.3)]],
    "Mauritania": [[(-16.5,16),(-14,16.6),(-12,14.8),(-10,15.3),(-5.5,15.5),(-6.5,25),(-4.8,25),(-8.7,27.3),(-8.7,26),(-12,26),(-12,23.4),(-13,21.3),(-17,21.4),(-16,19)]],
    "Angola": [[(13,-5.9),(16,-5.9),(17,-7),(21,-7),(22,-9.5),(22,-11),(24,-11.2),(24,-13),(22,-13),(22,-16.2),(23.4,-17.6),(21,-18),(13.5,-17.3),(11.8,-17.3),(13.7,-11),(12.5,-6.5)]],
    "Zambia": [[(22,-13),(24,-13),(24,-11.2),(27,-11.7),(29.8,-13.4),(29.8,-12.2),(28.5,-12),(28.5,-9),(31,-8.6),(33,-9.5),(33,-14),(30.5,-15),(28,-16.5),(25.3,-17.8),(23.4,-17.6),(22,-16.2)]],
    "Malawi": [[(33,-9.5),(34,-9.5),(34.8,-11.5),(35,-14),(35.8,-16),(35,-17),(34.4,-15),(33,-14)]],
    "Mozambique": [[(40.4,-10.5),(37,-11.6),(34.8,-11.5),(35,-14),(35.8,-16),(35,-17),(34.4,-15),(30.5,-15),(33,-18.5),(32.8,-20),(31.3,-22.4),(32,-26.8),(32.8,-26),(35.4,-24),(35,-20),(40,-16),(40.7,-14)]],
    "Zimbabwe": [[(25.3,-17.8),(28,-16.5),(30.5,-15),(33,-18.5),(32.8,-20),(31.3,-22.4),(29.4,-22.2),(26,-19)]],
    "Botswana": [[(20,-18.3),(23.4,-17.6),(25.3,-17.8),(26,-19),(29.4,-22.2),(25.7,-25.6),(23,-25.3),(20,-24.7),(20,-22)]],
    "Namibia": [[(11.8,-17.3),(13.5,-17.3),(21,-18),(23.4,-17.6),(20,-18.3),(20,-22),(20,-28.4),(16.5,-28.6),(14.5,-22.5)]],
    "South Africa": [[(16.5,-28.6),(20,-28.4),(20,-24.7),(23,-25.3),(25.7,-25.6),(29.4,-22.2),(31.3,-22.4),(32,-26.8),(32.8,-28),(30,-31.5),(26,-34),(20,-34.8),(18.4,-34),(18,-32)]],
    "Lesotho": [[(27,-29.6),(28.5,-28.6),(29.4,-29.5),(28,-30.6)]],
    "Eswatini": [[(30.9,-26.8),(32,-26),(32,-27.3),(31,-27.3)]],
    "Madagascar": [[(49.3,-12),(50.5,-15.5),(47.5,-24.8),(45,-25.5),(43.5,-23),(44.5,-16),(48,-13.5)]],
    "Somalia": [[(42.6,11),(43.3,11.5),(48,11.2),(51.2,11.9),(50,8),(46,2.5),(41.5,-1.7),(41,3.9),(42,4),(45,5),(47.9,8),(44,9)]],
    "Western Sahara": [[(-14.5,26.2),(-12,26),(-12,23.4),(-13,21.3),(-17,21.4),(-16,23.8)]],
}

outlines_greenland = {
    "Greenland": [[(-73,78.2),(-68,76),(-58,75.5),(-54,71),(-51,68),(-53,66),(-50,62),(-43.5,60),(-41,64),(-34,66.2),(-25,68.3),(-22,70.5),(-24,73),(-20,75),(-19,79),(-18,81.7),(-30,83.5),(-50,82.5),(-62,81.8),(-65,81),(-68,80)]],
}

outlines = {**outlines_americas, **outlines_europe, **outlines_asia, **outlines_africa, **outlines_greenland}


def merc(lat):
    return np.arcsinh(np.tan(np.radians(lat)))


def add_country(fig, name, fill, hover):
    lons, lats = [], []
    for ring in outlines[name]:
        ring = ring + ring[:1]
        lons += [p[0] for p in ring] + [None]
        lats += [float(merc(p[1])) for p in ring] + [None]
    fig.add_trace(go.Scatter(x=lons, y=lats, mode="lines", fill="toself", fillcolor=fill,
        line=dict(color="#1a1a1a", width=0.8), name=name, text=hover, hoverinfo="text", showlegend=False))


scale = [[i / (len(legend_colours) - 1), c] for i, c in enumerate(legend_colours)]

fig = go.Figure()
for name in no_data:
    add_country(fig, name, "#d3d3d3", name)
for name, rate in zip(countries, rates):
    colour = sample_colorscale(scale, [(min(max(rate, 1), 7) - 1) / 6])[0]
    add_country(fig, name, colour, "%s: %s" % (name, rate))

# legend row: wider step after the labels with a decimal
labels = [str(v) for v in legend_values]
steps = [22 if len(s) == 1 else 28 for s in labels]
legend_x = 166 + np.concatenate([[0], np.cumsum(steps[:-1])])
fig.add_trace(go.Scatter(x=legend_x, y=[437] * len(labels), xaxis="x2", yaxis="y2", mode="markers",
    marker=dict(symbol="square", size=9, color=legend_colours), showlegend=False, hoverinfo="skip"))
fig.add_trace(go.Scatter(x=legend_x + 6, y=[437.5] * len(labels), xaxis="x2", yaxis="y2", mode="text",
    text=labels, textposition="middle right", textfont=dict(size=8, color="#666666"), showlegend=False, hoverinfo="skip"))

fig.update_layout(
    width=640, height=467, margin=dict(l=0, r=0, t=0, b=0),
    paper_bgcolor="white", plot_bgcolor="rgba(0,0,0,0)",
    font=dict(family="Liberation Sans, Arial, sans-serif"),
    xaxis=dict(domain=[24 / 640, 622 / 640], range=[-180, 180], visible=False),
    yaxis=dict(domain=[55 / 467, 415 / 467], range=[-1.197, 2.584], visible=False),
    xaxis2=dict(domain=[0, 1], range=[0, 640], visible=False, anchor="y2"),
    yaxis2=dict(domain=[0, 1], range=[467, 0], visible=False, anchor="x2"),
    annotations=[
        dict(text="Total Fertility Rate 2022", xref="paper", yref="paper", x=22 / 640, y=1 - 35 / 467, xanchor="left", yanchor="middle",
            showarrow=False, font=dict(size=15, color="#555555")),
        dict(text="<b>" + legend_title + "</b>", xref="paper", yref="paper", x=323 / 640, y=1 - 421 / 467, xanchor="center", yanchor="middle",
            showarrow=False, font=dict(size=9, color="#222222")),
    ],
    shapes=[
        dict(type="line", xref="paper", yref="paper", x0=0.001, x1=0.001, y0=0, y1=1, line=dict(color="#b4c6d2", width=1.5)),
        dict(type="line", xref="paper", yref="paper", x0=0, x1=1, y0=0.002, y1=0.002, line=dict(color="#dddddd", width=1)),
    ],
)

fig.write_html("out.html", config=dict(displayModeBar=False), post_script="document.body.style.margin='0';")
